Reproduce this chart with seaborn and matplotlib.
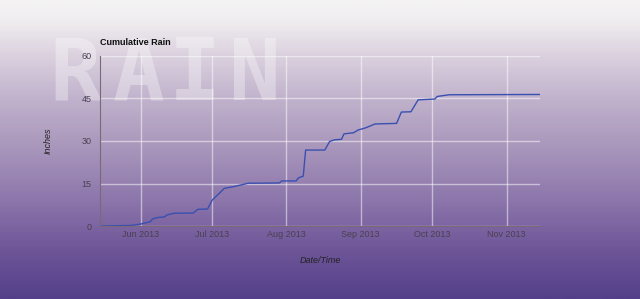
import numpy as np
import pandas as pd
import matplotlib
matplotlib.use("Agg")
import matplotlib.pyplot as plt
from matplotlib.colors import LinearSegmentedColormap
import seaborn as sns

# ---- data ----
dates = ["2013-05-15", "2013-05-28", "2013-06-01", "2013-06-05", "2013-06-06",
         "2013-06-08", "2013-06-11", "2013-06-12", "2013-06-15", "2013-06-23",
         "2013-06-25", "2013-06-29", "2013-07-01", "2013-07-04", "2013-07-06",
         "2013-07-10", "2013-07-13", "2013-07-16", "2013-07-29", "2013-07-30",
         "2013-08-05", "2013-08-06", "2013-08-08", "2013-08-09", "2013-08-17",
         "2013-08-19", "2013-08-21", "2013-08-24", "2013-08-25", "2013-08-29",
         "2013-08-31", "2013-09-03", "2013-09-07", "2013-09-16", "2013-09-18",
         "2013-09-22", "2013-09-25", "2013-10-02", "2013-10-03", "2013-10-08",
         "2013-11-15"]
rain = [0.0, 0.2, 0.7, 1.5, 2.5,
        3.0, 3.2, 3.9, 4.5, 4.6,
        5.9, 6.0, 9.2, 11.6, 13.3,
        13.9, 14.5, 15.1, 15.2, 15.9,
        15.9, 17.0, 17.6, 26.8, 26.8,
        29.8, 30.4, 30.6, 32.5, 32.9,
        33.9, 34.6, 36.0, 36.2, 40.2,
        40.3, 44.5, 44.8, 45.7, 46.3,
        46.4]
y_ticks = [0, 15, 30, 45, 60]
x_tick_dates = ["2013-06-01", "2013-07-01", "2013-08-01", "2013-09-01",
                "2013-10-01", "2013-11-01"]
x_tick_labels = ["Jun 2013", "Jul 2013", "Aug 2013", "Sep 2013", "Oct 2013", "Nov 2013"]
watermark = ["R", "A", "I", "N"]

df = pd.DataFrame({"Date/Time": pd.to_datetime(dates), "Inches": rain})

sns.set_style("white")
plt.rcParams["font.family"] = ["Liberation Sans", "DejaVu Sans"]

fig = plt.figure(figsize=(6.4, 2.99), dpi=100)

# background gradient
bg = fig.add_axes([0, 0, 1, 1], zorder=0)
cmap = LinearSegmentedColormap.from_list(
    "bg", [(0.0, "#f5f4f4"), (0.07, "#efecef"), (0.17, "#ddd4e0"),
           (0.33, "#c0b2cc"), (0.5, "#a895bb"), (0.67, "#8c76ab"),
           (0.84, "#6e5598"), (1.0, "#54408a")])
grad = np.linspace(0, 1, 300).reshape(-1, 1)
bg.imshow(grad, aspect="auto", cmap=cmap, extent=[0, 1, 0, 1])
bg.set_axis_off()

# watermark letters
centers = [75, 139, 195, 255]
for ch, cx in zip(watermark, centers):
    fig.text(cx / 640, 1 - 100 / 299, ch, fontsize=62, fontweight="bold",
             family=["DejaVu Sans Mono"], color="white", alpha=0.33,
             zorder=1, ha="center", va="baseline")

ax = fig.add_axes([0.156, 0.244, 0.688, 0.569], zorder=2)
ax.patch.set_alpha(0)
sns.lineplot(data=df, x="Date/Time", y="Inches", ax=ax, color="#3a4fb0",
             linewidth=1.0)

ax.set_xlim(pd.Timestamp("2013-05-15"), pd.Timestamp("2013-11-15"))
ax.set_ylim(0, 60)
ax.set_yticks(y_ticks)
ax.set_xticks(pd.to_datetime(x_tick_dates))
ax.set_xticklabels(x_tick_labels)
ax.tick_params(axis="x", labelsize=6.5, colors="#4a4050", length=0, pad=3)
ax.tick_params(axis="y", labelsize=6.5, colors="#4a4050", length=0, pad=6)
ax.grid(True, color="white", alpha=0.5, linewidth=1)
for s in ["top", "right"]:
    ax.spines[s].set_visible(False)
for s in ["left", "bottom"]:
    ax.spines[s].set_color("#7a6a78")
    ax.spines[s].set_linewidth(0.8)

ax.set_xlabel("Date/Time", fontsize=6.5, style="italic", color="#222222", labelpad=12)
ax.set_ylabel("Inches", fontsize=6.5, style="italic", color="#222222", labelpad=21)
ax.set_title("Cumulative Rain", fontsize=6.5, fontweight="bold", loc="left",
             color="#111111", pad=8)

fig.savefig("out.png", dpi=100)
